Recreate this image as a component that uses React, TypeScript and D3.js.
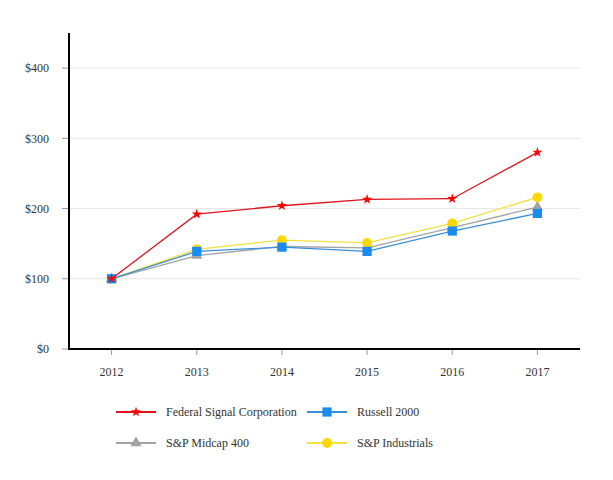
import React from "react";
import * as d3 from "d3";

const years = ["2012", "2013", "2014", "2015", "2016", "2017"];
const federalSignal = [100, 192, 204, 213, 214, 280];
const russell2000 = [100, 139, 145, 139, 168, 193];
const spMidcap400 = [100, 133, 146, 144, 173, 202];
const spIndustrials = [100, 142, 155, 151, 179, 216];
const yTicks = [0, 100, 200, 300, 400];

const W = 613;
const H = 480;
const M = { left: 69, right: 580, top: 33, bottom: 349 };
const FONT = "Liberation Serif, DejaVu Serif, serif";
const FS = 12;

type S = { name: string; values: number[]; line: string; fill: string; marker: string };
const series: S[] = [
  { name: "S&P Midcap 400", values: spMidcap400, line: "#a3a3a3", fill: "#a3a3a3", marker: "triangle" },
  { name: "S&P Industrials", values: spIndustrials, line: "#f4e040", fill: "#ffd700", marker: "circle" },
  { name: "Russell 2000", values: russell2000, line: "#3a8fd9", fill: "#1a8cf0", marker: "square" },
  { name: "Federal Signal Corporation", values: federalSignal, line: "#e0141c", fill: "#ff0000", marker: "star" },
];
const legendOrder = ["Federal Signal Corporation", "Russell 2000", "S&P Midcap 400", "S&P Industrials"];

const symbolPath = (m: string) => {
  const t =
    m === "triangle" ? d3.symbolTriangle : m === "circle" ? d3.symbolCircle : m === "square" ? d3.symbolSquare : d3.symbolStar;
  const size = m === "triangle" ? 55 : m === "circle" ? 75 : m === "square" ? 85 : 32;
  return d3.symbol().type(t).size(size)() as string;
};

export default function App() {
  const x = d3.scalePoint<string>().domain(years).range([M.left, M.right]).padding(0.5);
  const y = d3.scaleLinear().domain([0, 450]).range([M.bottom, M.top]);
  const line = d3
    .line<number>()
    .x((_, i) => x(years[i]) as number)
    .y((v) => y(v));

  return (
    <svg width={W} height={H} style={{ display: "block", position: "absolute", left: 0, top: 0, fontFamily: FONT }}>
      <rect width={W} height={H} fill="#fff" />
      {yTicks.map((t) => (
        <g key={t}>
          {t > 0 && <line x1={M.left} x2={M.right} y1={y(t)} y2={y(t)} stroke="#e6e6e6" strokeWidth={1} />}
          <line x1={M.left - 7} x2={M.left} y1={y(t)} y2={y(t)} stroke="#999" strokeWidth={1} />
          <text x={49} y={y(t)} dy="0.35em" textAnchor="end" fontSize={FS} fill="#333" style={{ fontFamily: FONT }}>
            {"$" + t}
          </text>
        </g>
      ))}
      {years.map((yr) => (
        <g key={yr}>
          <line x1={x(yr)} x2={x(yr)} y1={M.bottom} y2={M.bottom + 6} stroke="#999" strokeWidth={1} />
          <text x={x(yr)} y={372} dy="0.35em" textAnchor="middle" fontSize={FS} fill="#333" style={{ fontFamily: FONT }}>
            {yr}
          </text>
        </g>
      ))}
      <line x1={M.left} x2={M.left} y1={M.top} y2={M.bottom + 1} stroke="#000" strokeWidth={2} />
      <line x1={M.left - 1} x2={M.right} y1={M.bottom} y2={M.bottom} stroke="#000" strokeWidth={2} />
      {series.map((s) => (
        <g key={s.name}>
          <path d={line(s.values) as string} fill="none" stroke={s.line} strokeWidth={1.3} />
          {s.values.map((v, i) => (
            <path key={i} d={symbolPath(s.marker)} transform={`translate(${x(years[i])},${y(v)})`} fill={s.fill} />
          ))}
        </g>
      ))}
      {legendOrder.map((n, i) => {
        const s = series.find((d) => d.name === n)!;
        const lx = i % 2 === 0 ? 116 : 307;
        const ly = i < 2 ? 412 : 443;
        return (
          <g key={n} transform={`translate(${lx},${ly})`}>
            <line x1={0} x2={40} y1={0} y2={0} stroke={s.line} strokeWidth={2} />
            <path d={symbolPath(s.marker)} transform="translate(20,0)" fill={s.fill} />
            <text x={50} y={0} dy="0.35em" fontSize={FS} fill="#333" style={{ fontFamily: FONT }}>
              {n}
            </text>
          </g>
        );
      })}
    </svg>
  );
}
